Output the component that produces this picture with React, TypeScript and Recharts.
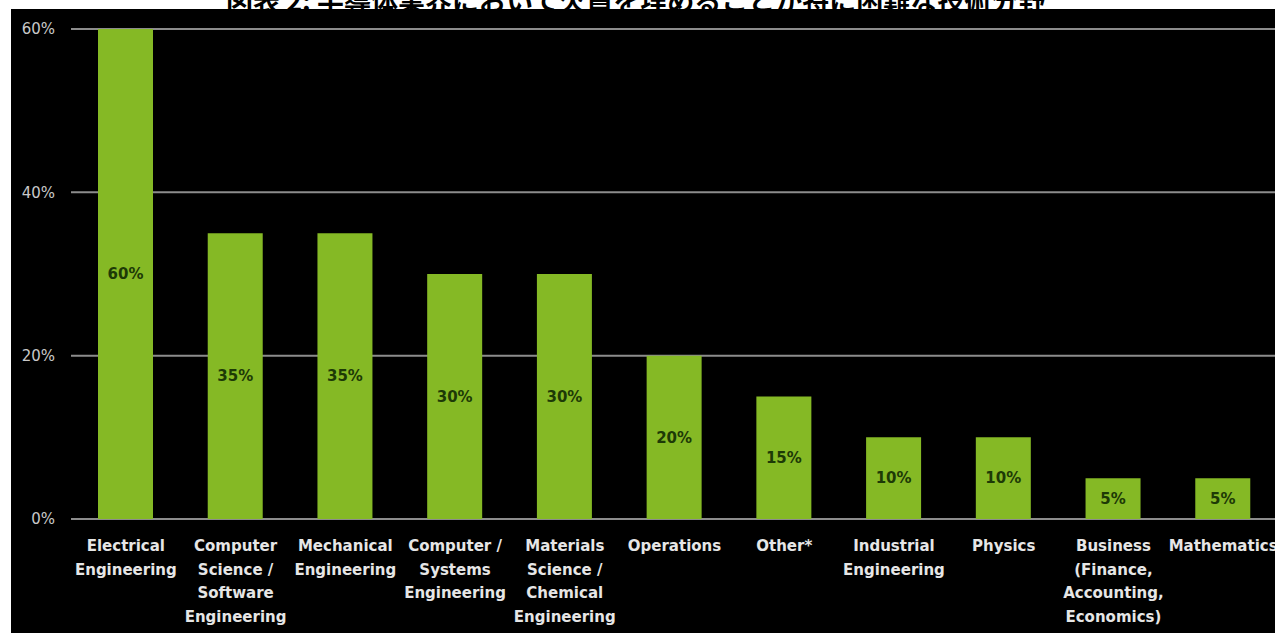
import { BarChart, Bar, XAxis, YAxis, CartesianGrid, LabelList } from 'recharts'

const categories = [
  'Electrical\nEngineering',
  'Computer\nScience /\nSoftware\nEngineering',
  'Mechanical\nEngineering',
  'Computer /\nSystems\nEngineering',
  'Materials\nScience /\nChemical\nEngineering',
  'Operations',
  'Other*',
  'Industrial\nEngineering',
  'Physics',
  'Business\n(Finance,\nAccounting,\nEconomics)',
  'Mathematics',
]
const shares = [60, 35, 35, 30, 30, 20, 15, 10, 10, 5, 5]
const yTicks = [0, 20, 40, 60]
const title = '図表 2: 半導体業界において欠員を埋めることが特に困難な技術分野'

const data = categories.map((name, i) => ({ name, share: shares[i] }))

const GREEN = '#85b925'
const FONT = 'DejaVu Sans, sans-serif'

function CategoryTick({ x, y, payload }: any) {
  const lines = String(payload.value).split('\n')
  return (
    <text
      x={x}
      y={y + 24}
      textAnchor="middle"
      fill="#e6e6e6"
      fontSize={15}
      fontWeight="bold"
      fontFamily={FONT}
    >
      {lines.map((l, i) => (
        <tspan key={i} x={x} dy={i === 0 ? 0 : 23.5}>
          {l}
        </tspan>
      ))}
    </text>
  )
}

export default function App() {
  return (
    <div
      style={{
        position: 'relative',
        width: 1275,
        height: 633,
        overflow: 'hidden',
        background: '#fff',
      }}
    >
      <style>{'body{margin:0}'}</style>
      {/* title is cropped in the source, only its lower edge shows */}
      <div
        style={{
          position: 'absolute',
          left: 0,
          width: 1275,
          top: -14,
          paddingLeft: 226,
          fontFamily: 'Noto Sans CJK JP, sans-serif',
          fontWeight: 'bold',
          fontSize: 27,
          lineHeight: '27px',
          color: '#000',
          whiteSpace: 'nowrap',
        }}
      >
        {title}
      </div>
      <div
        style={{
          position: 'absolute',
          left: 11,
          top: 9,
          width: 1264,
          height: 624,
          background: '#000',
        }}
      />
      <div style={{ position: 'absolute', left: 0, top: 0 }}>
        <BarChart
          width={1290}
          height={633}
          data={data}
          margin={{ top: 29, right: 12, bottom: 0, left: 0 }}
        >
          <CartesianGrid vertical={false} stroke="#8c8c8c" strokeWidth={2} />
          <XAxis
            dataKey="name"
            interval={0}
            height={114}
            axisLine={false}
            tickLine={false}
            tick={<CategoryTick />}
          />
          <YAxis
            domain={[0, 60]}
            ticks={yTicks}
            width={71}
            axisLine={false}
            tickLine={false}
            tickSize={0}
            tickMargin={16}
            tickFormatter={(v) => `${v}%`}
            tick={{ fill: '#c9c9c9', fontSize: 15, fontFamily: FONT }}
          />
          <Bar dataKey="share" fill={GREEN} barSize={55} isAnimationActive={false}>
            <LabelList
              dataKey="share"
              position="center"
              formatter={(v: any) => `${v}%`}
              fill="#1d3a06"
              fontSize={15}
              fontWeight="bold"
              fontFamily={FONT}
            />
          </Bar>
        </BarChart>
      </div>
    </div>
  )
}
